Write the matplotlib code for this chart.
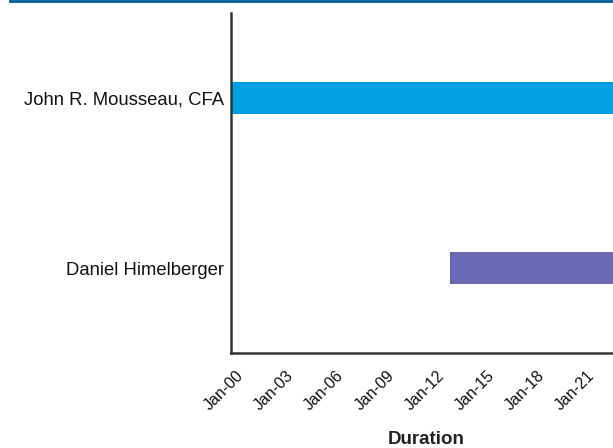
import matplotlib
matplotlib.use("Agg")
import matplotlib.pyplot as plt
import matplotlib.dates as mdates
import matplotlib.transforms as mtransforms
from matplotlib.lines import Line2D
import datetime as dt

plt.rcParams['font.family'] = ['Liberation Sans', 'DejaVu Sans']

names = ["Daniel Himelberger", "John R. Mousseau, CFA"]
starts = [dt.date(2013, 2, 15), dt.date(2000, 1, 1)]
ends = [dt.date(2024, 6, 1), dt.date(2024, 6, 1)]
colors = ["#6868B4", "#00A0E3"]
tick_years = [2000, 2003, 2006, 2009, 2012, 2015, 2018, 2021]

fig = plt.figure(figsize=(6.13, 4.48), dpi=100)
W, H = 613, 448
left, right, bottom, top = 231, 622, 353, 13
ax = fig.add_axes([left / W, 1 - bottom / H, (right - left) / W, (bottom - top) / H])

for i, (n, s, e, c) in enumerate(zip(names, starts, ends, colors)):
    s_num = mdates.date2num(s)
    e_num = mdates.date2num(e)
    ax.barh(i, e_num - s_num, left=s_num, height=0.19, color=c, edgecolor='none')

ax.set_ylim(-0.5, 1.5)
ax.set_yticks(range(len(names)))
ax.set_yticklabels(names, fontsize=13.3, color='#111111')
ax.set_xlim(mdates.date2num(dt.date(2000, 1, 1)), mdates.date2num(dt.date(2023, 6, 1)))
ax.set_xticks([mdates.date2num(dt.date(y, 1, 1)) for y in tick_years])
ax.xaxis.set_major_formatter(mdates.DateFormatter('%b-%y'))
ax.tick_params(axis='both', length=0, pad=5)
ax.tick_params(axis='x', pad=11)
for sp in ['top', 'right']:
    ax.spines[sp].set_visible(False)
for sp in ['left', 'bottom']:
    ax.spines[sp].set_color('#333333')
    ax.spines[sp].set_linewidth(1.8)
ax.set_xlabel("Duration", fontsize=13.5, fontweight='bold', color='#222222', labelpad=12.5)

offset = mtransforms.ScaledTranslation(5 / 100, 0, fig.dpi_scale_trans)
for lbl in ax.get_xticklabels():
    lbl.set_rotation(45)
    lbl.set_ha('right')
    lbl.set_va('top')
    lbl.set_rotation_mode('anchor')
    lbl.set_fontsize(11.5)
    lbl.set_color('#111111')
    lbl.set_transform(lbl.get_transform() + offset)

fig.add_artist(Line2D([10 / W, 1.0], [1 - 1.0 / H, 1 - 1.0 / H], color='#005B96', linewidth=2))

fig.savefig("out.png", dpi=100)
